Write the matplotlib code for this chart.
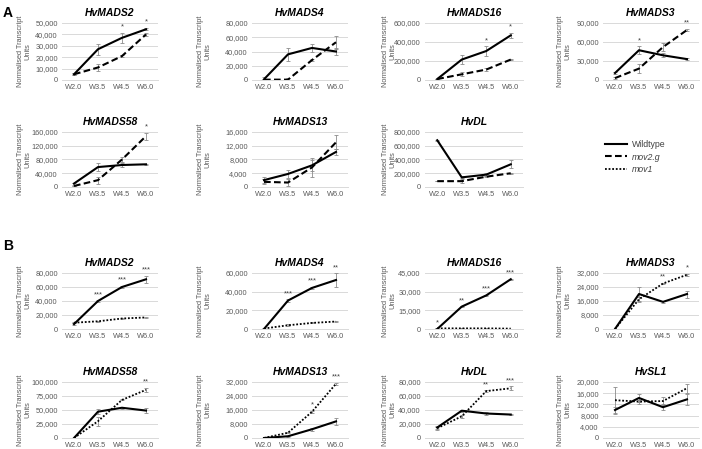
import numpy as np
import matplotlib
matplotlib.use("Agg")
import matplotlib.pyplot as plt
from matplotlib.lines import Line2D
from matplotlib.ticker import FuncFormatter

plt.rcParams['font.family'] = ['Liberation Sans', 'DejaVu Sans']

stages = ["W2.0", "W3.5", "W4.5", "W6.0"]

# ---- Panel A: Wildtype vs mov2.g ----
a_mads2_wt = [5000, 27000, 37000, 44500]
a_mads2_wt_err = [800, 5000, 4500, 1000]
a_mads2_mut = [5000, 11000, 21000, 40000]
a_mads2_mut_err = [800, 3000, 1000, 1500]
a_mads2_stars = ["", "", "*", "*"]

a_mads4_wt = [1000, 36000, 45000, 40000]
a_mads4_wt_err = [3000, 9000, 5000, 5000]
a_mads4_mut = [500, 500, 28000, 53000]
a_mads4_mut_err = [500, 3000, 1000, 9000]
a_mads4_stars = ["", "", "", ""]

a_mads16_wt = [10000, 215000, 305000, 470000]
a_mads16_wt_err = [5000, 50000, 50000, 25000]
a_mads16_mut = [10000, 60000, 110000, 215000]
a_mads16_mut_err = [3000, 20000, 20000, 8000]
a_mads16_stars = ["", "", "*", "*"]

a_mads3_wt = [11000, 47000, 39000, 33000]
a_mads3_wt_err = [2000, 6000, 3000, 1500]
a_mads3_mut = [3000, 18000, 52000, 79000]
a_mads3_mut_err = [1000, 7000, 6000, 2000]
a_mads3_stars = ["", "*", "", "**"]

a_mads58_wt = [10000, 58000, 64000, 66000]
a_mads58_wt_err = [3000, 12000, 5000, 2000]
a_mads58_mut = [3000, 20000, 80000, 148000]
a_mads58_mut_err = [1000, 10000, 8000, 10000]
a_mads58_stars = ["", "", "", "*"]

a_mads13_wt = [2000, 3800, 6300, 10200]
a_mads13_wt_err = [800, 1200, 1600, 900]
a_mads13_mut = [1500, 1300, 5700, 13000]
a_mads13_mut_err = [700, 900, 2800, 2000]
a_mads13_stars = ["", "", "", ""]

a_dl_wt = [680000, 140000, 180000, 330000]
a_dl_wt_err = [10000, 15000, 20000, 60000]
a_dl_mut = [85000, 85000, 150000, 200000]
a_dl_mut_err = [5000, 30000, 10000, 10000]
a_dl_stars = ["", "", "", ""]

# ---- Panel B: Wildtype vs mov1 ----
b_mads2_wt = [7000, 40000, 60000, 71000]
b_mads2_wt_err = [1000, 1000, 1500, 5000]
b_mads2_mut = [9000, 11000, 15000, 16500]
b_mads2_mut_err = [500, 500, 800, 1000]
b_mads2_stars = ["", "***", "***", "***"]

b_mads4_wt = [0, 30500, 44000, 52500]
b_mads4_wt_err = [300, 1500, 1500, 7000]
b_mads4_mut = [500, 4000, 6500, 8000]
b_mads4_mut_err = [200, 1000, 500, 500]
b_mads4_stars = ["", "***", "***", "**"]

b_mads16_wt = [0, 18000, 27000, 40000]
b_mads16_wt_err = [100, 300, 300, 500]
b_mads16_mut = [500, 500, 500, 300]
b_mads16_mut_err = [50, 50, 50, 50]
b_mads16_stars = ["*", "**", "***", "***"]

b_mads3_wt = [0, 20000, 15500, 20000]
b_mads3_wt_err = [200, 4000, 500, 2000]
b_mads3_mut = [0, 17000, 26000, 31000]
b_mads3_mut_err = [200, 1500, 500, 500]
b_mads3_stars = ["", "", "**", "*"]

b_mads58_wt = [0, 47000, 54000, 49000]
b_mads58_wt_err = [500, 5000, 2000, 4000]
b_mads58_mut = [0, 30000, 68000, 86000]
b_mads58_mut_err = [500, 8000, 1000, 4000]
b_mads58_stars = ["", "", "", "**"]

b_mads13_wt = [0, 1000, 5000, 9500]
b_mads13_wt_err = [100, 300, 1000, 2000]
b_mads13_mut = [0, 3000, 15000, 31000]
b_mads13_mut_err = [100, 300, 500, 500]
b_mads13_stars = ["", "", "*", "***"]

b_dl_wt = [15000, 39000, 35000, 33500]
b_dl_wt_err = [2000, 1500, 2000, 1000]
b_dl_mut = [14000, 31000, 67000, 71000]
b_dl_mut_err = [2000, 2000, 1000, 3000]
b_dl_stars = ["", "", "**", "***"]

b_sl1_wt = [10000, 14300, 11000, 13800]
b_sl1_wt_err = [1000, 1300, 1000, 2000]
b_sl1_mut = [13500, 13000, 13200, 17800]
b_sl1_mut_err = [4800, 700, 1500, 1600]
b_sl1_stars = ["", "", "", ""]

panels = [
    # title, ymax, step, wt, wt_err, mut, mut_err, stars, mutant, col, row
    ("HvMADS2", 50000, 10000, a_mads2_wt, a_mads2_wt_err, a_mads2_mut, a_mads2_mut_err, a_mads2_stars, "mov2", 0, 0),
    ("HvMADS4", 80000, 20000, a_mads4_wt, a_mads4_wt_err, a_mads4_mut, a_mads4_mut_err, a_mads4_stars, "mov2", 1, 0),
    ("HvMADS16", 600000, 200000, a_mads16_wt, a_mads16_wt_err, a_mads16_mut, a_mads16_mut_err, a_mads16_stars, "mov2", 2, 0),
    ("HvMADS3", 90000, 30000, a_mads3_wt, a_mads3_wt_err, a_mads3_mut, a_mads3_mut_err, a_mads3_stars, "mov2", 3, 0),
    ("HvMADS58", 160000, 40000, a_mads58_wt, a_mads58_wt_err, a_mads58_mut, a_mads58_mut_err, a_mads58_stars, "mov2", 0, 1),
    ("HvMADS13", 16000, 4000, a_mads13_wt, a_mads13_wt_err, a_mads13_mut, a_mads13_mut_err, a_mads13_stars, "mov2", 1, 1),
    ("HvDL", 800000, 200000, a_dl_wt, a_dl_wt_err, a_dl_mut, a_dl_mut_err, a_dl_stars, "mov2", 2, 1),
    ("HvMADS2", 80000, 20000, b_mads2_wt, b_mads2_wt_err, b_mads2_mut, b_mads2_mut_err, b_mads2_stars, "mov1", 0, 2),
    ("HvMADS4", 60000, 20000, b_mads4_wt, b_mads4_wt_err, b_mads4_mut, b_mads4_mut_err, b_mads4_stars, "mov1", 1, 2),
    ("HvMADS16", 45000, 15000, b_mads16_wt, b_mads16_wt_err, b_mads16_mut, b_mads16_mut_err, b_mads16_stars, "mov1", 2, 2),
    ("HvMADS3", 32000, 8000, b_mads3_wt, b_mads3_wt_err, b_mads3_mut, b_mads3_mut_err, b_mads3_stars, "mov1", 3, 2),
    ("HvMADS58", 100000, 25000, b_mads58_wt, b_mads58_wt_err, b_mads58_mut, b_mads58_mut_err, b_mads58_stars, "mov1", 0, 3),
    ("HvMADS13", 32000, 8000, b_mads13_wt, b_mads13_wt_err, b_mads13_mut, b_mads13_mut_err, b_mads13_stars, "mov1", 1, 3),
    ("HvDL", 80000, 20000, b_dl_wt, b_dl_wt_err, b_dl_mut, b_dl_mut_err, b_dl_stars, "mov1", 2, 3),
    ("HvSL1", 20000, 4000, b_sl1_wt, b_sl1_wt_err, b_sl1_mut, b_sl1_mut_err, b_sl1_stars, "mov1", 3, 3),
]

W, H = 702, 449
fig = plt.figure(figsize=(W / 100, H / 100), dpi=100)

col_px = [(62, 158), (252, 348), (425, 523), (603, 699)]
row_px = [(23, 80), (132, 187), (273, 329), (382, 438)]
ylabel_cx = [24, 204, 389, 564]   # centre of the two-line y label, px

GRID = "#d9d9d9"
TXT = "#595959"
ERR = "#8c8c8c"

styles = {
    "mov2": dict(linestyle=(0, (3.2, 1.6)), linewidth=1.5),
    "mov1": dict(linestyle=(0, (1, 1)), linewidth=1.3),
}

fmt = FuncFormatter(lambda v, p: f"{int(round(v)):,}")

for (title, ymax, step, wt, wte, mut, mute, stars, mtype, c, r) in panels:
    x0, x1 = col_px[c]
    yt, yb = row_px[r]
    ax = fig.add_axes([x0 / W, 1 - yb / H, (x1 - x0) / W, (yb - yt) / H])
    x = np.arange(len(stages))
    ax.set_xlim(-0.5, len(stages) - 0.5)
    ax.set_ylim(0, ymax)
    ax.set_yticks(np.arange(0, ymax + step / 2, step))
    ax.yaxis.set_major_formatter(fmt)
    ax.set_xticks(x)
    ax.set_xticklabels(stages)
    ax.grid(axis="y", color=GRID, linewidth=0.7)
    ax.set_axisbelow(True)
    for s in ["top", "right", "left"]:
        ax.spines[s].set_visible(False)
    ax.spines["bottom"].set_color(GRID)
    ax.spines["bottom"].set_linewidth(0.7)
    ax.tick_params(length=0, labelsize=5.3, colors=TXT)
    ax.tick_params(axis="y", pad=3)
    ax.tick_params(axis="x", pad=3)
    ax.set_title(title, fontsize=7.5, fontweight="bold", fontstyle="italic", pad=5)
    lab = ax.set_ylabel("Normalised Transcript\nUnits", fontsize=5.3, color=TXT, linespacing=1.0)
    lab.set_verticalalignment("center")
    ax.yaxis.set_label_coords((ylabel_cx[c] - x0) / (x1 - x0), 0.5)

    ax.errorbar(x, mut, yerr=mute, fmt="none", ecolor=ERR, elinewidth=0.6, capsize=1.5, capthick=0.6, zorder=2)
    ax.errorbar(x, wt, yerr=wte, fmt="none", ecolor=ERR, elinewidth=0.6, capsize=1.5, capthick=0.6, zorder=2)
    ax.plot(x, mut, color="black", zorder=3, **styles[mtype])
    ax.plot(x, wt, color="black", linewidth=1.5, zorder=4)
    for i, s in enumerate(stars):
        if s:
            top = max(wt[i] + wte[i], mut[i] + mute[i])
            ax.text(x[i], top + 0.04 * ymax, s, ha="center", va="bottom", fontsize=5.5, color="#404040")

fig.text(3 / W, 1 - 13 / H, "A", fontsize=10, fontweight="bold", va="center", ha="left")
fig.text(3 / W, 1 - 246 / H, "B", fontsize=10, fontweight="bold", va="center", ha="left")

handles = [
    Line2D([], [], color="black", linewidth=1.5),
    Line2D([], [], color="black", **styles["mov2"]),
    Line2D([], [], color="black", **styles["mov1"]),
]
leg = fig.legend(handles, ["Wildtype", "mov2.g", "mov1"], loc="center left",
                 bbox_to_anchor=(597 / W, 1 - 157 / H), frameon=False, fontsize=6.3,
                 handlelength=2.5, handletextpad=0.6, labelspacing=0.45)
for i, t in enumerate(leg.get_texts()):
    t.set_color("#404040")
    if i > 0:
        t.set_fontstyle("italic")

fig.savefig("out.png", dpi=100)
